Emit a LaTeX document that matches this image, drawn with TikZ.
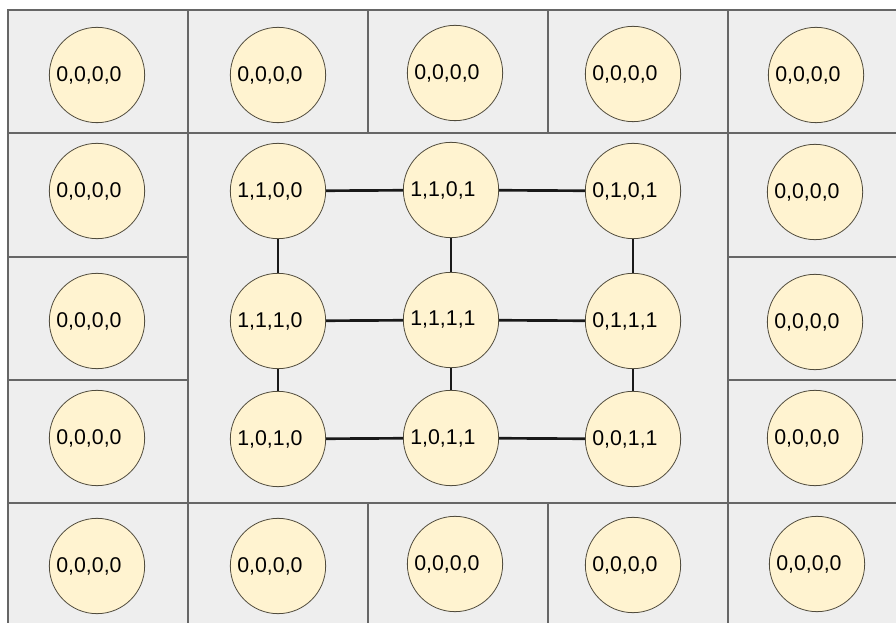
\documentclass[tikz,border=0pt]{standalone}
\usepackage{fontspec}
\setmainfont{Liberation Sans}
\usepackage{tikz}

\definecolor{cellgray}{RGB}{238,238,238}
\definecolor{cellline}{RGB}{102,102,102}
\definecolor{bitfill}{RGB}{255,243,208}
\definecolor{bitline}{RGB}{80,75,60}

\begin{document}
\begin{tikzpicture}[
			x=0.75pt, y=-0.75pt,
			cell/.style={
					fill=cellgray,
					draw=cellline,
					line width=0.9pt
				},
			bit/.style={
					circle,
					draw=bitline,
					fill=bitfill,
					line width=0.6pt,
					minimum size=71.5pt,
					inner sep=0pt,
					text width=61pt, % Left aligned label inside the circle
					align=left,
					font=\fontsize{16}{18}\selectfont
				},
			link/.style={
					line width=2pt,
					draw=black!90
				}
		]
		\clip (0, 0) rectangle (896, 623);
		\fill[white] (0, 0) rectangle (896, 623);

		% outer ring of cells
		\draw[cell] (8, 10) rectangle (188, 133);
		\draw[cell] (188, 10) rectangle (368, 133);
		\draw[cell] (368, 10) rectangle (548, 133);
		\draw[cell] (548, 10) rectangle (728, 133);
		\draw[cell] (728, 10) rectangle (910, 133);
		\draw[cell] (8, 133) rectangle (188, 257);
		\draw[cell] (8, 257) rectangle (188, 380);
		\draw[cell] (8, 380) rectangle (188, 503);
		\draw[cell] (728, 133) rectangle (910, 257);
		\draw[cell] (728, 257) rectangle (910, 380);
		\draw[cell] (728, 380) rectangle (910, 503);
		\draw[cell] (8, 503) rectangle (188, 640);
		\draw[cell] (188, 503) rectangle (368, 640);
		\draw[cell] (368, 503) rectangle (548, 640);
		\draw[cell] (548, 503) rectangle (728, 640);
		\draw[cell] (728, 503) rectangle (910, 640);
		% inner block
		\draw[cell] (188, 133) rectangle (728, 503);

		% zero states
		\node[bit] (za) at (97, 75) {0,0,0,0};
		\node[bit] (zb) at (278, 75) {0,0,0,0};
		\node[bit] (zc) at (455, 73) {0,0,0,0};
		\node[bit] (zd) at (633, 74) {0,0,0,0};
		\node[bit] (ze) at (816, 75) {0,0,0,0};
		\node[bit] (zf) at (97, 191) {0,0,0,0};
		\node[bit] (zg) at (815, 192) {0,0,0,0};
		\node[bit] (zh) at (97, 321) {0,0,0,0};
		\node[bit] (zi) at (815, 322) {0,0,0,0};
		\node[bit] (zj) at (97, 438) {0,0,0,0};
		\node[bit] (zk) at (815, 438) {0,0,0,0};
		\node[bit] (zl) at (97, 566) {0,0,0,0};
		\node[bit] (zm) at (278, 566) {0,0,0,0};
		\node[bit] (zn) at (455, 564) {0,0,0,0};
		\node[bit] (zo) at (633, 565) {0,0,0,0};
		\node[bit] (zp) at (817, 564) {0,0,0,0};

		% inner states
		\node[bit] (n1100) at (278, 191) {1,1,0,0};
		\node[bit] (n1101) at (451, 190) {1,1,0,1};
		\node[bit] (n0101) at (633, 191) {0,1,0,1};
		\node[bit] (n1110) at (278, 321) {1,1,1,0};
		\node[bit] (n1111) at (451, 320) {1,1,1,1};
		\node[bit] (n0111) at (633, 321) {0,1,1,1};
		\node[bit] (n1010) at (278, 439) {1,0,1,0};
		\node[bit] (n1011) at (451, 438) {1,0,1,1};
		\node[bit] (n0011) at (633, 439) {0,0,1,1};

		\draw[link] (n1100) -- (n1101);
		\draw[link] (n1101) -- (n0101);
		\draw[link] (n1110) -- (n1111);
		\draw[link] (n1111) -- (n0111);
		\draw[link] (n1010) -- (n1011);
		\draw[link] (n1011) -- (n0011);
		\draw[link] (n1100) -- (n1110);
		\draw[link] (n1110) -- (n1010);
		\draw[link] (n1101) -- (n1111);
		\draw[link] (n1111) -- (n1011);
		\draw[link] (n0101) -- (n0111);
		\draw[link] (n0111) -- (n0011);

	\end{tikzpicture}
\end{document}
